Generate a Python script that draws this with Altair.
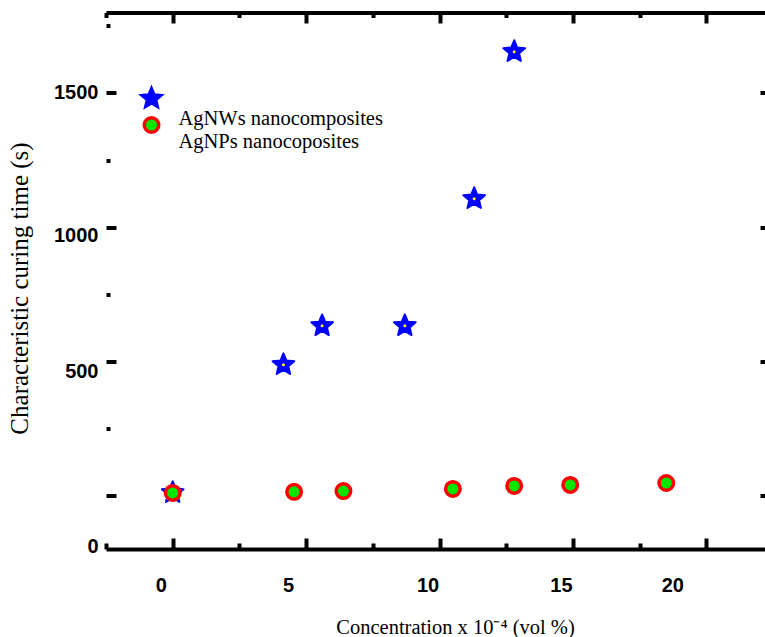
import altair as alt
import pandas as pd

# ---------------- data ----------------
nw_conc = [0.0, 4.15, 5.6, 8.7, 11.3, 12.8]
nw_time = [10, 487, 632, 632, 1106, 1654]
np_conc = [0.0, 4.55, 6.4, 10.5, 12.8, 14.9, 18.5]
np_time = [9, 13, 16, 24, 35, 39, 46]
series_names = ["AgNWs nanocomposites", "AgNPs nanocoposites"]
x_label_values = [0, 5, 10, 15, 20]
x_tick_values = [-2.5, 0, 2.5, 5, 7.5, 10, 12.5, 15, 17.5, 20]
y_label_values = [0, 500, 1000, 1500]
y_tick_values = [0, 250, 500, 750, 1000, 1250, 1500, 1750]
y_major_values = [0, 500, 1000, 1500]
x_title = "Concentration x 10\u207b\u2074 (vol %)"
y_title = "Characteristic curing time (s)"

df_nw = pd.DataFrame({"conc": nw_conc, "time": nw_time, "series": series_names[0]})
df_np = pd.DataFrame({"conc": np_conc, "time": np_time, "series": series_names[1]})

STAR = ("M0,-1L0.2645,-0.364L0.9511,-0.309L0.428,0.139L0.5878,0.809L0,0.45"
        "L-0.5878,0.809L-0.428,0.139L-0.9511,-0.309L-0.2645,-0.364Z")

W, H = 659, 536.5
SANS = "Liberation Sans"
SERIF = "Liberation Serif"

xscale = alt.Scale(domain=[-2.5, 22.2], nice=False, zero=False)
yscale = alt.Scale(domain=[-200, 1800], nice=False, zero=False)
shape_scale = alt.Scale(domain=series_names, range=[STAR, "circle"])
fill_scale = alt.Scale(domain=series_names, range=["#0000ff", "#00e600"])
stroke_scale = alt.Scale(domain=series_names, range=["#0000ff", "#ff0000"])
size_scale = alt.Scale(domain=series_names, range=[520, 210])
sw_scale = alt.Scale(domain=series_names, range=[2, 3.5])

# legend showing only the symbols
symbol_legend = alt.Legend(
    title=None, orient="none", legendX=33, legendY=73.5, padding=0,
    labelExpr="''", labelOffset=0, rowPadding=-2, symbolOpacity=1,
)
# legend showing only the texts (placed a little lower, as in the reference)
text_legend = alt.Legend(
    title=None, orient="none", legendX=52, legendY=96, padding=0,
    symbolSize=0, symbolStrokeWidth=0, labelOffset=0, rowPadding=2,
    labelFont=SERIF, labelFontSize=20.5, labelColor="black", labelLimit=400,
)

# bottom labels + x title
axis_xa = alt.Axis(
    orient="bottom", offset=0, values=x_label_values, domain=False, ticks=False, grid=False,
    labelFont=SANS, labelFontWeight="bold", labelFontSize=20, labelColor="black",
    labelPadding=26, labelOverlap=False, labelFlush=False, format="d",
    labelOffset={"expr": "datum.value == 20 ? -34 : datum.value == 5 ? -18 : -12"},
    title=x_title, titleFont=SERIF, titleFontSize=20.5, titleFontWeight="normal",
    titleColor="black", titleX=349, titleY=78, titleBaseline="middle", titleAlign="center",
)
# bottom frame line with inward ticks
axis_xb = alt.Axis(
    orient="top", offset=-H, values=x_tick_values, domain=True, domainColor="black",
    domainWidth=4, ticks=True, tickColor="black", tickWidth=4,
    tickSize={"condition": {"test": "datum.value % 5 == 0", "value": 11}, "value": 6},
    labels=False, grid=False, title=None,
)
# top frame line with inward ticks
axis_xc = alt.Axis(
    orient="bottom", offset=-H, values=x_tick_values, domain=True, domainColor="black",
    domainWidth=4, ticks=True, tickColor="black", tickWidth=4,
    tickSize={"condition": {"test": "datum.value % 5 == 0", "value": 10.5}, "value": 5},
    labels=False, grid=False, title=None,
)
# left labels + y title
axis_ya = alt.Axis(
    orient="left", offset=0, values=y_label_values, domain=False, ticks=False, grid=False,
    labelFont=SANS, labelFontWeight="bold", labelFontSize=20, labelColor="black",
    labelPadding=8, labelOverlap=False, labelFlush=False, format="d",
    labelOffset={"expr": "datum.value == 0 ? 51 : datum.value == 500 ? 10 : datum.value == 1000 ? 8 : 0"},
    title=y_title, titleFont=SERIF, titleFontSize=25, titleFontWeight="normal",
    titleColor="black", titleX=-87, titleY=275.5, titleBaseline="middle", titleAlign="center",
)
# left inward ticks
axis_yb = alt.Axis(
    orient="right", offset=-W, values=y_tick_values, domain=False, ticks=True,
    tickColor="black", tickWidth=4,
    tickSize={"condition": {"test": "datum.value % 500 == 0", "value": 10}, "value": 4},
    labels=False, grid=False, title=None,
)
# right inward ticks
axis_yc = alt.Axis(
    orient="left", offset=-W, values=y_major_values, domain=False, ticks=True,
    tickColor="black", tickWidth=4, tickSize=5, labels=False, grid=False, title=None,
)

enc_series = dict(
    shape=alt.Shape("series:N", scale=shape_scale, legend=symbol_legend),
    fill=alt.Fill("series:N", scale=fill_scale, legend=symbol_legend),
    stroke=alt.Stroke("series:N", scale=stroke_scale, legend=symbol_legend),
    size=alt.Size("series:N", scale=size_scale, legend=symbol_legend),
    strokeWidth=alt.StrokeWidth("series:N", scale=sw_scale, legend=symbol_legend),
    opacity=alt.Opacity("series:O", sort="descending",
                        scale=alt.Scale(range=[1, 1]), legend=text_legend),
)

stars = alt.Chart(df_nw).mark_point(
    filled=True, strokeJoin="round"
).encode(
    x=alt.X("conc:Q", scale=xscale, axis=axis_xa),
    y=alt.Y("time:Q", scale=yscale, axis=axis_ya),
    **enc_series,
)

dots = alt.Chart(df_nw).mark_point(
    filled=True, opacity=1, size=9, shape="circle", color="#ffff00"
).encode(
    x=alt.X("conc:Q", scale=xscale, axis=axis_xc),
    y=alt.Y("time:Q", scale=yscale, axis=axis_yc),
)

circles = alt.Chart(df_np).mark_point(
    filled=True
).encode(
    x=alt.X("conc:Q", scale=xscale, axis=axis_xb),
    y=alt.Y("time:Q", scale=yscale, axis=axis_yb),
    **enc_series,
)

chart = alt.layer(stars, dots, circles).resolve_axis(
    x="independent", y="independent"
).properties(
    width=W, height=H,
    padding={"left": 106, "top": 12.5, "right": 0, "bottom": 88},
    autosize=alt.AutoSizeParams(type="none"),
    background="white",
).configure_view(stroke=None)

chart.save("out.html", embed_options={"renderer": "svg", "actions": False})
